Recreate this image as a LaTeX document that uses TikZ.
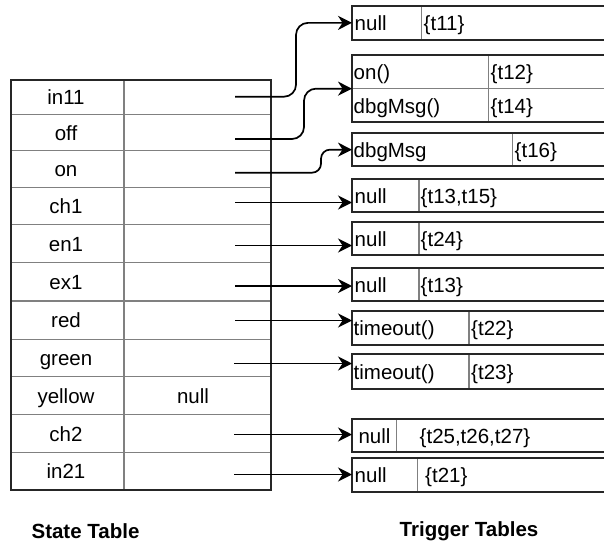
\documentclass[tikz,border=0pt]{standalone}
\usepackage{fontspec}
\setmainfont{Liberation Sans}
\usetikzlibrary{arrows.meta,calc}
\tikzset{
  outerline/.style={draw=black!85, line width=1.8pt},
  innerline/.style={draw=black!50, line width=1.2pt},
  tbox/.style={outerline, anchor=north west, minimum width=300pt, inner sep=0pt, outer sep=0pt},
  txt/.style={font=\fontsize{20.5}{24}\selectfont, inner sep=0pt, text height=15.5pt, text depth=0pt},
  ltxt/.style={txt, anchor=west},
  ttl/.style={font=\bfseries\fontsize{20.5}{24}\selectfont, inner sep=0pt},
  arr/.style={line width=1.7pt, black, -{Stealth[length=14pt,width=14pt,inset=4.5pt]}},
}
\begin{document}
\begin{tikzpicture}[x=1pt,y=-1pt]
\useasboundingbox (0,0) rectangle (604,546);
\clip (0,0) rectangle (604,546);

% ---------- State table ----------
\foreach \yy in {114.3,150.7,187.7,224.3,262.7,301,339.3,376.7,414.3,452.3}
  \draw[innerline] (10,\yy) -- (270,\yy);
\draw[innerline] (124,79) -- (124,489.3);
\node[outerline, anchor=north west, minimum width=260pt, minimum height=410.3pt, inner sep=0pt] (st) at (10,79) {};

\node[txt] (n-in11)   at (66,96.7)  {in11};
\node[txt] (n-off)    at (66,132.5) {off};
\node[txt] (n-on)     at (66,169.2) {on};
\node[txt] (n-ch1)    at (66,206)   {ch1};
\node[txt] (n-en1)    at (66,243.5) {en1};
\node[txt] (n-ex1)    at (66,281.9) {ex1};
\node[txt] (n-red)    at (66,320.2) {red};
\node[txt] (n-green)  at (66,358)   {green};
\node[txt] (n-yellow) at (66,395.5) {yellow};
\node[txt] (v-yellow) at (193,395.5) {null};
\node[txt] (n-ch2)    at (66,433.3) {ch2};
\node[txt] (n-in21)   at (66,470.8) {in21};

\coordinate (s-in11)  at (235,96.7);
\coordinate (s-off)   at (235,139);
\coordinate (s-on)    at (235,172.7);
\coordinate (s-ch1)   at (235,202.5);
\coordinate (s-en1)   at (235,245.5);
\coordinate (s-ex1)   at (235,286);
\coordinate (s-red)   at (235,320.5);
\coordinate (s-green) at (234,363.5);
\coordinate (s-ch2)   at (234,434.5);
\coordinate (s-in21)  at (234,474.5);

% ---------- Trigger tables ----------
% t1
\draw[innerline] (421.7,5.7) -- (421.7,40);
\node[tbox, minimum height=34.3pt] (t1) at (352,5.7) {};
\node[ltxt] (t1a) at (354.5,22.9) {null};
\node[ltxt] (t1b) at (423.5,22.9) {\{t11\}};
% t2
\draw[innerline] (352,88.3) -- (604,88.3);
\draw[innerline] (488.7,55) -- (488.7,122.3);
\node[tbox, minimum height=67.3pt] (t2) at (352,55) {};
\node[ltxt] (t2a) at (353.5,71.6) {on()};
\node[ltxt] (t2b) at (490.5,71.6) {\{t12\}};
\node[ltxt] (t2c) at (353.5,105.3) {dbgMsg()};
\node[ltxt] (t2d) at (490.5,105.3) {\{t14\}};
% t3
\draw[innerline] (512.3,133.3) -- (512.3,166);
\node[tbox, minimum height=32.7pt] (t3) at (352,133.3) {};
\node[ltxt] (t3a) at (353.5,149.7) {dbgMsg};
\node[ltxt] (t3b) at (514.5,149.7) {\{t16\}};
% t4
\draw[innerline] (419,179) -- (419,211.7);
\node[tbox, minimum height=32.7pt] (t4) at (352,179) {};
\node[ltxt] (t4a) at (354.5,195.3) {null};
\node[ltxt] (t4b) at (420.5,195.3) {\{t13,t15\}};
% t5
\draw[innerline] (419,222.3) -- (419,255);
\node[tbox, minimum height=32.7pt] (t5) at (352,222.3) {};
\node[ltxt] (t5a) at (354.5,238.6) {null};
\node[ltxt] (t5b) at (420.5,238.6) {\{t24\}};
% t6
\draw[innerline] (419,267.7) -- (419,301);
\node[tbox, minimum height=33.3pt] (t6) at (352,267.7) {};
\node[ltxt] (t6a) at (354.5,284.3) {null};
\node[ltxt] (t6b) at (420.5,284.3) {\{t13\}};
% t7
\draw[innerline] (469,310.7) -- (469,345);
\node[tbox, minimum height=34.3pt] (t7) at (352,310.7) {};
\node[ltxt] (t7a) at (353.5,327.8) {timeout()};
\node[ltxt] (t7b) at (471,327.8) {\{t22\}};
% t8
\draw[innerline] (469,354) -- (469,389);
\node[tbox, minimum height=35pt] (t8) at (352,354) {};
\node[ltxt] (t8a) at (353.5,371.5) {timeout()};
\node[ltxt] (t8b) at (471,371.5) {\{t23\}};
% t9
\draw[innerline] (396.7,419) -- (396.7,451.7);
\node[tbox, minimum height=32.7pt] (t9) at (352,419) {};
\node[txt] (t9a) at (374.5,435.3) {null};
\node[ltxt] (t9b) at (419.5,435.3) {\{t25,t26,t27\}};
% t10
\draw[innerline] (417.3,458.3) -- (417.3,491.7);
\node[tbox, minimum height=33.4pt] (t10) at (352,458.3) {};
\node[ltxt] (t10a) at (354.5,475) {null};
\node[ltxt] (t10b) at (425,475) {\{t21\}};

% ---------- Connectors ----------
\draw[arr, rounded corners=12pt] (s-in11) -| ([xshift=-56pt]t1.west) -- (t1.west);
\draw[arr, rounded corners=12pt] (s-off) -| ([xshift=-48pt]t2.west) -- (t2.west);
\draw[arr, rounded corners=9pt] (s-on) -| ([xshift=-31pt]t3.west) -- (t3.west);
\draw[arr] (s-ch1) -- (t4.west |- s-ch1);
\draw[arr] (s-en1) -- (t5.west |- s-en1);
\draw[arr] (s-ex1) -- (t6.west |- s-ex1);
\draw[arr] (s-red) -- (t7.west |- s-red);
\draw[arr] (s-green) -- (t8.west |- s-green);
\draw[arr] (s-ch2) -- (t9.west |- s-ch2);
\draw[arr] (s-in21) -- (t10.west |- s-in21);

% ---------- Titles ----------
\node[ttl] (title-state) at (85.5,531) {State Table};
\node[ttl] (title-trig) at (469,531) {Trigger Tables};
\end{tikzpicture}
\end{document}
